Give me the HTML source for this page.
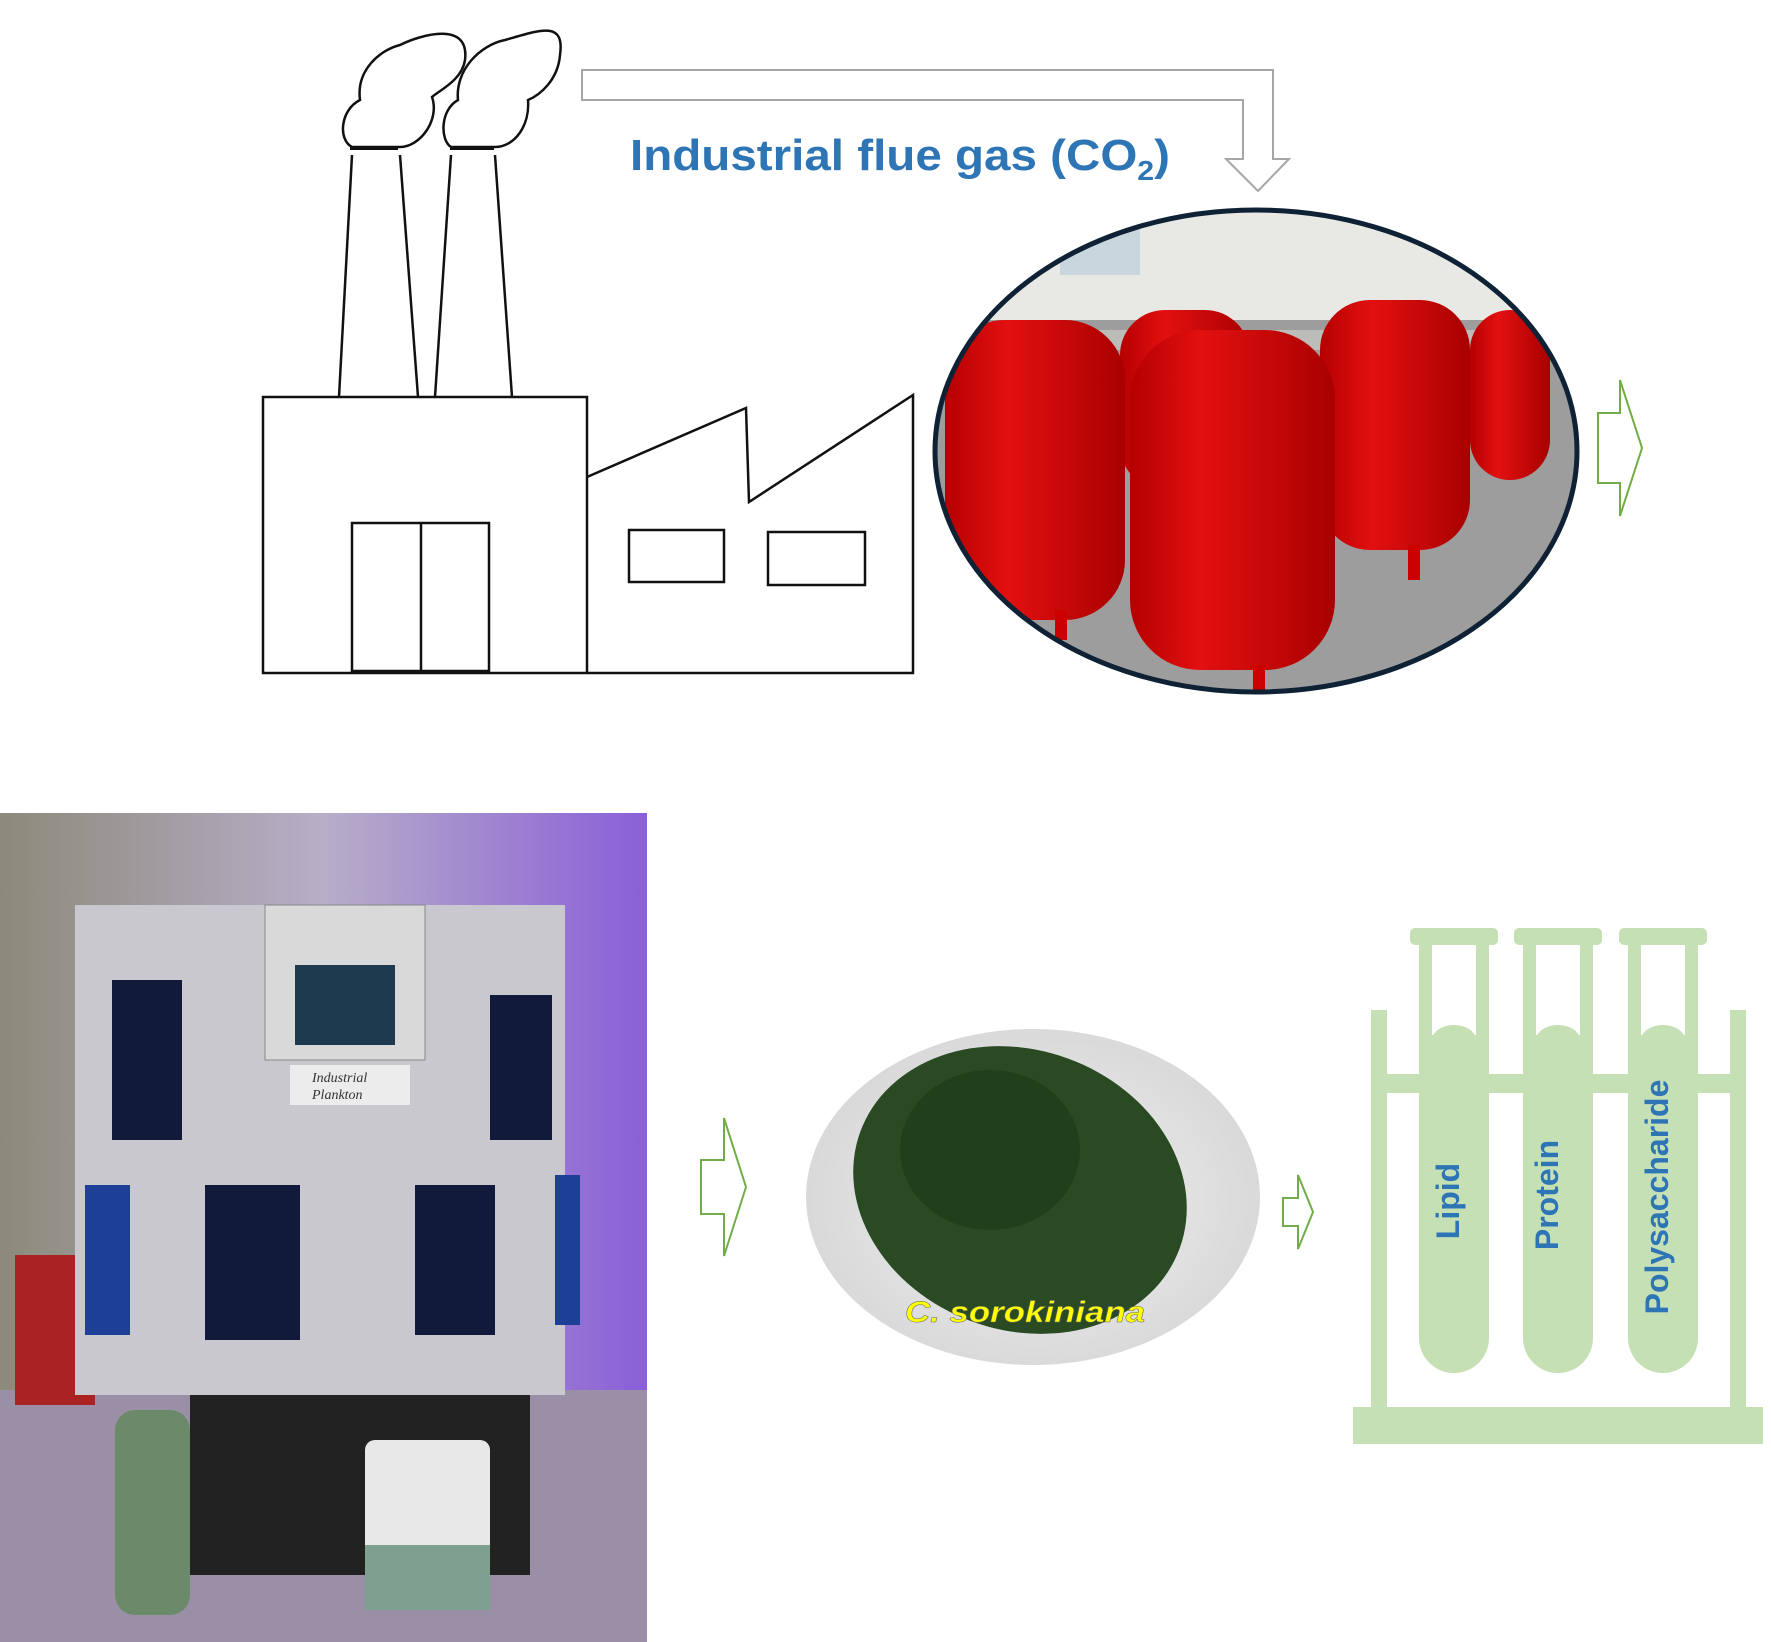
<!DOCTYPE html>
<html><head><meta charset="utf-8"><style>html,body{margin:0;padding:0;background:#fff}svg{display:block}</style></head>
<body>
<svg width="1771" height="1642" viewBox="0 0 1771 1642" xmlns="http://www.w3.org/2000/svg">
<defs>
<clipPath id="ell"><ellipse cx="1256" cy="451" rx="321" ry="241"/></clipPath>
<clipPath id="pow"><ellipse cx="1033" cy="1197" rx="227" ry="168"/></clipPath>
<linearGradient id="red" x1="0" x2="1"><stop offset="0" stop-color="#b50000"/><stop offset="0.35" stop-color="#e31010"/><stop offset="1" stop-color="#a80000"/></linearGradient>
<linearGradient id="bg1" x1="0" x2="1"><stop offset="0" stop-color="#8c8a7a"/><stop offset="0.5" stop-color="#b7aec8"/><stop offset="1" stop-color="#8a5fd8"/></linearGradient>
<radialGradient id="pg"><stop offset="0" stop-color="#f2f2f2"/><stop offset="1" stop-color="#d8d8d8"/></radialGradient>
</defs>

<g fill="none" stroke="#111" stroke-width="2.5">
<path d="M352,147 C338,140 340,110 360,100 C356,70 380,50 400,45 C420,35 470,20 465,60 C462,80 440,90 432,97 C440,120 420,147 400,147 Z"/>
<path d="M451,147 C440,140 440,110 458,100 C455,70 480,45 505,40 C540,30 565,20 560,55 C558,80 540,95 528,100 C530,125 515,147 495,147 Z"/>
<line x1="350" y1="148" x2="398" y2="148" stroke-width="4"/>
<line x1="450" y1="148" x2="494" y2="148" stroke-width="4"/>
<line x1="352" y1="155" x2="339" y2="397"/><line x1="400" y1="155" x2="418" y2="397"/>
<line x1="451" y1="155" x2="435" y2="397"/><line x1="495" y1="155" x2="512" y2="397"/>
<rect x="263" y="397" width="324" height="276"/>
<polyline points="587,477 746,408 749,502 913,395 913,673 587,673"/>
<rect x="352" y="523" width="137" height="148"/><line x1="421" y1="523" x2="421" y2="671"/>
<rect x="629" y="530" width="95" height="52"/><rect x="768" y="532" width="97" height="53"/>
</g>

<path d="M582,70 L1273,70 L1273,159 L1289,159 L1258,191 L1226,159 L1243,159 L1243,100 L582,100 Z" fill="#fff" stroke="#a6a6a6" stroke-width="2"/>
<text x="630" y="170" font-family="Liberation Sans, sans-serif" font-size="44" fill="#2e75b6" font-weight="bold" textLength="540" lengthAdjust="spacingAndGlyphs">Industrial flue gas (CO<tspan font-size="28" dy="10">2</tspan><tspan dy="-10">)</tspan></text>

<g clip-path="url(#ell)">
<rect x="930" y="200" width="660" height="500" fill="#9d9d9d"/>
<rect x="930" y="200" width="660" height="120" fill="#e8e8e4"/>
<rect x="1060" y="225" width="80" height="50" fill="#c9d6de"/>
<rect x="930" y="330" width="660" height="20" fill="#bcbcb8"/>
<rect x="1470" y="310" width="80" height="170" rx="40" fill="url(#red)"/>
<rect x="1320" y="300" width="150" height="250" rx="50" fill="url(#red)"/>
<rect x="1120" y="310" width="130" height="180" rx="45" fill="url(#red)"/>
<rect x="945" y="320" width="180" height="300" rx="60" fill="url(#red)"/>
<rect x="1130" y="330" width="205" height="340" rx="70" fill="url(#red)"/>
<rect x="1055" y="610" width="12" height="30" fill="#c00"/><rect x="1253" y="665" width="12" height="35" fill="#c00"/><rect x="1408" y="545" width="12" height="35" fill="#c00"/>
</g>
<ellipse cx="1256" cy="451" rx="321" ry="241" fill="none" stroke="#0f2235" stroke-width="5"/>

<g fill="#fff" stroke="#70ad47" stroke-width="2">
<path d="M1598,413 L1620,413 L1620,380 L1642,448 L1620,516 L1620,483 L1598,483 Z"/>
<path d="M701,1160 L724,1160 L724,1118 L746,1187 L724,1256 L724,1214 L701,1214 Z"/>
<path d="M1283,1198 L1298,1198 L1298,1175 L1313,1212 L1298,1249 L1298,1226 L1283,1226 Z"/>
</g>

<rect x="0" y="813" width="647" height="829" fill="url(#bg1)"/>
<rect x="0" y="1390" width="647" height="252" fill="#9b8fa8"/>
<rect x="15" y="1255" width="80" height="150" fill="#a22"/>
<rect x="75" y="905" width="490" height="490" fill="#c9c8cf"/>
<rect x="265" y="905" width="160" height="155" fill="#d9d9d9" stroke="#888"/>
<rect x="295" y="965" width="100" height="80" fill="#1e3a4e"/>
<rect x="112" y="980" width="70" height="160" fill="#111a3a"/><rect x="490" y="995" width="62" height="145" fill="#111a3a"/>
<rect x="205" y="1185" width="95" height="155" fill="#111a3a"/><rect x="415" y="1185" width="80" height="150" fill="#111a3a"/>
<rect x="85" y="1185" width="45" height="150" fill="#1d3f95"/><rect x="555" y="1175" width="25" height="150" fill="#1d3f95"/>
<rect x="190" y="1395" width="340" height="180" fill="#222"/>
<rect x="115" y="1410" width="75" height="205" rx="20" fill="#6a8a6a"/>
<rect x="365" y="1440" width="125" height="170" rx="10" fill="#e8e8e8"/>
<rect x="365" y="1545" width="125" height="65" fill="#7fa08f"/>
<rect x="290" y="1065" width="120" height="40" fill="#ececec"/>
<text x="312" y="1082" font-family="Liberation Serif, serif" font-size="14" fill="#333" font-style="italic">Industrial</text>
<text x="312" y="1099" font-family="Liberation Serif, serif" font-size="14" fill="#333" font-style="italic">Plankton</text>

<g clip-path="url(#pow)">
<rect x="800" y="1020" width="470" height="360" fill="url(#pg)"/>
<ellipse cx="1020" cy="1190" rx="170" ry="140" fill="#2a4a24" transform="rotate(20 1020 1190)"/>
<ellipse cx="990" cy="1150" rx="90" ry="80" fill="#20401c"/>
</g>
<text x="905" y="1322" font-family="Liberation Sans, sans-serif" font-size="30" font-weight="bold" font-style="italic" fill="#ffff00" stroke="#666" stroke-width="0.5" textLength="240" lengthAdjust="spacingAndGlyphs">C. sorokiniana</text>

<g fill="#c5e0b4">
<rect x="1353" y="1407" width="410" height="37"/>
<rect x="1371" y="1010" width="16" height="397"/><rect x="1730" y="1010" width="16" height="397"/>
<rect x="1371" y="1074" width="375" height="19"/>
<g id="t">
<rect x="1410" y="928" width="88" height="17" rx="5"/>
<path d="M1419,945 L1489,945 L1489,1338 A35,35 0 0 1 1419,1338 Z"/>
<rect x="1432" y="945" width="44" height="90" fill="#fff"/>
<ellipse cx="1454" cy="1040" rx="22" ry="15"/>
</g>
<use href="#t" x="104"/><use href="#t" x="209"/>
</g>
<g font-family="Liberation Sans, sans-serif" font-weight="bold" font-size="32" fill="#2e75b6" text-anchor="middle">
<text transform="translate(1459,1201) rotate(-90)">Lipid</text>
<text transform="translate(1558,1195) rotate(-90)">Protein</text>
<text transform="translate(1668,1197) rotate(-90)">Polysaccharide</text>
</g>
</svg>
</body></html>
